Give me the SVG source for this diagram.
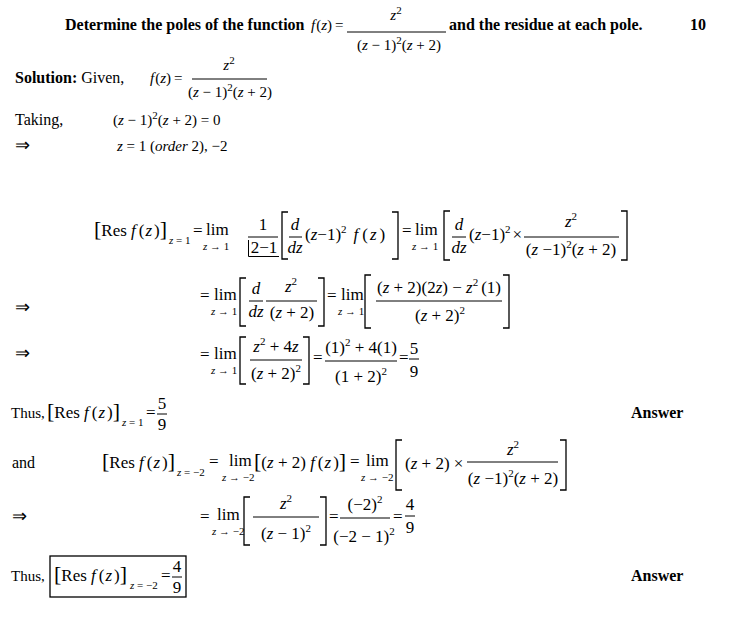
<svg xmlns="http://www.w3.org/2000/svg" width="734" height="630" viewBox="0 0 734 630">
<style>
text{font-family:"Liberation Serif","Times New Roman",serif;font-size:16px;fill:#000}
.b{font-weight:bold}
.i{font-style:italic}
.h{font-size:15px}
.m{font-size:17px}
.s{font-size:11px}
.br{font-size:22px}
.ar{font-size:18px}
.ln{stroke:#000;stroke-width:1;fill:none}
.bk{stroke:#000;stroke-width:1.3;fill:none}
</style>
<rect width="734" height="630" fill="#fff"/>

<g id="question">
<text class="b" x="65" y="30">Determine the poles of the function</text>
<text class="h" x="311" y="30"><tspan class="i">f</tspan><tspan dx="1">(</tspan><tspan class="i">z</tspan>)<tspan dx="3">=</tspan></text>
<text class="h" x="396" y="20" text-anchor="middle"><tspan class="i">z</tspan><tspan class="s" dy="-6">2</tspan></text>
<line class="ln" x1="347" y1="32" x2="446" y2="32"/>
<text class="h" x="399" y="50" text-anchor="middle">(<tspan class="i">z</tspan> − 1)<tspan class="s" dy="-6">2</tspan><tspan dy="6">(</tspan><tspan class="i">z</tspan> + 2)</text>
<text class="b" x="449" y="30">and the residue at each pole.</text>
<text class="b" x="690" y="30">10</text>
</g>

<g id="given">
<text x="15" y="83"><tspan class="b">Solution:</tspan> Given,</text>
<text class="h" x="150" y="83"><tspan class="i">f</tspan><tspan dx="1">(</tspan><tspan class="i">z</tspan>)<tspan dx="3">=</tspan></text>
<text class="h" x="229" y="70" text-anchor="middle"><tspan class="i">z</tspan><tspan class="s" dy="-6">2</tspan></text>
<line class="ln" x1="192" y1="79" x2="267" y2="79"/>
<text class="h" x="230" y="97" text-anchor="middle">(<tspan class="i">z</tspan> − 1)<tspan class="s" dy="-6">2</tspan><tspan dy="6">(</tspan><tspan class="i">z</tspan> + 2)</text>
</g>

<g id="poles">
<text x="15" y="125">Taking,</text>
<text class="h" x="113" y="125">(<tspan class="i">z</tspan> − 1)<tspan class="s" dy="-6">2</tspan><tspan dy="6">(</tspan><tspan class="i">z</tspan> + 2) = 0</text>
<text class="ar" x="15" y="151">⇒</text>
<text class="h" x="117" y="151"><tspan class="i">z</tspan> = 1 (<tspan class="i">order</tspan> 2), −2</text>
</g>

<g id="res1-line1">
<text class="m" x="94" y="236"><tspan class="br">[</tspan>Res <tspan class="i">f</tspan><tspan dx="3">(</tspan><tspan class="i" dx="1">z</tspan><tspan dx="2">)</tspan><tspan class="br">]</tspan></text>
<text class="s" x="169" y="244"><tspan class="i">z</tspan> = 1</text>
<text class="m" x="193" y="236">=</text>
<text class="m" x="206" y="235">lim</text>
<text class="s" x="203" y="250"><tspan class="i">z</tspan> → 1</text>
<text class="m" x="263" y="230" text-anchor="middle">1</text>
<line class="ln" x1="248" y1="237" x2="278" y2="237"/>
<text class="m" x="264" y="253" text-anchor="middle">2−1</text>
<path class="ln" d="M248.5,240 V256.5 H279"/>
<path class="bk" d="M288,212 H282 V259 H288"/>
<text class="m i" x="295" y="230" text-anchor="middle">d</text>
<line class="ln" x1="289" y1="237" x2="302" y2="237"/>
<text class="m i" x="295" y="253" text-anchor="middle">dz</text>
<text class="m" x="305" y="240">(<tspan class="i">z</tspan>−1)<tspan class="s" dy="-7">2</tspan><tspan class="i" dx="7" dy="7">f</tspan><tspan dx="4">(</tspan><tspan class="i" dx="2">z</tspan><tspan dx="3">)</tspan></text>
<path class="bk" d="M392,212 H398 V259 H392"/>
<text class="m" x="402" y="236">=</text>
<text class="m" x="415" y="235">lim</text>
<text class="s" x="412" y="250"><tspan class="i">z</tspan> → 1</text>
<path class="bk" d="M450,211 H444 V260 H450"/>
<text class="m i" x="459" y="230" text-anchor="middle">d</text>
<line class="ln" x1="452" y1="237" x2="466" y2="237"/>
<text class="m i" x="459" y="253" text-anchor="middle">dz</text>
<text class="m" x="469" y="240">(<tspan class="i">z</tspan>−1)<tspan class="s" dy="-7">2</tspan><tspan dx="2" dy="7">×</tspan></text>
<text class="m" x="571" y="227" text-anchor="middle"><tspan class="i">z</tspan><tspan class="s" dy="-7">2</tspan></text>
<line class="ln" x1="524" y1="237" x2="619" y2="237"/>
<text class="m" x="571" y="255" text-anchor="middle">(<tspan class="i">z</tspan> −1)<tspan class="s" dy="-7">2</tspan><tspan dy="7">(</tspan><tspan class="i">z</tspan> + 2)</text>
<path class="bk" d="M621,211 H627 V260 H621"/>
</g>

<g id="res1-line2">
<text class="ar" x="15" y="313">⇒</text>
<text class="m" x="200" y="301">=</text>
<text class="m" x="214" y="300">lim</text>
<text class="s" x="211" y="315"><tspan class="i">z</tspan> → 1</text>
<path class="bk" d="M246,278 H240 V326 H246"/>
<text class="m i" x="256" y="294" text-anchor="middle">d</text>
<line class="ln" x1="249" y1="301" x2="263" y2="301"/>
<text class="m i" x="256" y="317" text-anchor="middle">dz</text>
<text class="m" x="291" y="292" text-anchor="middle"><tspan class="i">z</tspan><tspan class="s" dy="-7">2</tspan></text>
<line class="ln" x1="266" y1="301" x2="317" y2="301"/>
<text class="m" x="292" y="318" text-anchor="middle">(<tspan class="i">z</tspan> + 2)</text>
<path class="bk" d="M318,278 H324 V326 H318"/>
<text class="m" x="327" y="301">=</text>
<text class="m" x="341" y="300">lim</text>
<text class="s" x="338" y="315"><tspan class="i">z</tspan> → 1</text>
<path class="bk" d="M371,275 H365 V328 H371"/>
<text class="m" x="439" y="293" text-anchor="middle">(<tspan class="i">z</tspan> + 2)(2<tspan class="i">z</tspan>) − <tspan class="i">z</tspan><tspan class="s" dy="-7">2</tspan><tspan dx="3" dy="7">(1)</tspan></text>
<line class="ln" x1="376" y1="301" x2="502" y2="301"/>
<text class="m" x="440" y="321" text-anchor="middle">(<tspan class="i">z</tspan> + 2)<tspan class="s" dy="-7">2</tspan></text>
<path class="bk" d="M503,275 H509 V328 H503"/>
</g>

<g id="res1-line3">
<text class="ar" x="15" y="359">⇒</text>
<text class="m" x="200" y="360">=</text>
<text class="m" x="214" y="359">lim</text>
<text class="s" x="211" y="374"><tspan class="i">z</tspan> → 1</text>
<path class="bk" d="M246,337 H240 V384 H246"/>
<text class="m" x="276" y="352" text-anchor="middle"><tspan class="i">z</tspan><tspan class="s" dy="-7">2</tspan><tspan dy="7"> + 4</tspan><tspan class="i">z</tspan></text>
<line class="ln" x1="250" y1="360" x2="302" y2="360"/>
<text class="m" x="276" y="379" text-anchor="middle">(<tspan class="i">z</tspan> + 2)<tspan class="s" dy="-7">2</tspan></text>
<path class="bk" d="M303,337 H309 V384 H303"/>
<text class="m" x="313" y="363">=</text>
<text class="m" x="361" y="353" text-anchor="middle">(1)<tspan class="s" dy="-7">2</tspan><tspan dy="7"> + 4(1)</tspan></text>
<line class="ln" x1="325" y1="361" x2="397" y2="361"/>
<text class="m" x="361" y="382" text-anchor="middle">(1 + 2)<tspan class="s" dy="-7">2</tspan></text>
<text class="m" x="399" y="363">=</text>
<text class="m" x="414" y="354" text-anchor="middle">5</text>
<line class="ln" x1="409" y1="359" x2="419" y2="359"/>
<text class="m" x="414" y="377" text-anchor="middle">9</text>
</g>

<g id="res1-result">
<text class="h" x="11" y="418">Thus,</text>
<text class="m" x="47" y="418"><tspan class="br">[</tspan>Res <tspan class="i">f</tspan><tspan dx="3">(</tspan><tspan class="i" dx="1">z</tspan><tspan dx="2">)</tspan><tspan class="br">]</tspan></text>
<text class="s" x="122" y="426"><tspan class="i">z</tspan> = 1</text>
<text class="m" x="146" y="418">=</text>
<text class="m" x="162" y="409" text-anchor="middle">5</text>
<line class="ln" x1="157" y1="414" x2="167" y2="414"/>
<text class="m" x="162" y="430" text-anchor="middle">9</text>
<text class="b" x="631" y="418">Answer</text>
</g>

<g id="res2-line1">
<text x="12" y="468">and</text>
<text class="m" x="102" y="468"><tspan class="br">[</tspan>Res <tspan class="i">f</tspan><tspan dx="3">(</tspan><tspan class="i" dx="1">z</tspan><tspan dx="2">)</tspan><tspan class="br">]</tspan></text>
<text class="s" x="177" y="476"><tspan class="i">z</tspan> = −2</text>
<text class="m" x="209" y="467">=</text>
<text class="m" x="229" y="466">lim</text>
<text class="s" x="222" y="481"><tspan class="i">z</tspan> → −2</text>
<text class="m" x="254" y="468"><tspan class="br">[</tspan>(<tspan class="i">z</tspan> + 2) <tspan class="i">f</tspan><tspan dx="3">(</tspan><tspan class="i" dx="1">z</tspan><tspan dx="2">)</tspan><tspan class="br">]</tspan></text>
<text class="m" x="350" y="467">=</text>
<text class="m" x="366" y="466">lim</text>
<text class="s" x="361" y="481"><tspan class="i">z</tspan> → −2</text>
<path class="bk" d="M402,440 H396 V490 H402"/>
<text class="m" x="405" y="469">(<tspan class="i">z</tspan> + 2) ×</text>
<text class="m" x="513" y="455" text-anchor="middle"><tspan class="i">z</tspan><tspan class="s" dy="-7">2</tspan></text>
<line class="ln" x1="467" y1="462" x2="558" y2="462"/>
<text class="m" x="513" y="484" text-anchor="middle">(<tspan class="i">z</tspan> −1)<tspan class="s" dy="-7">2</tspan><tspan dy="7">(</tspan><tspan class="i">z</tspan> + 2)</text>
<path class="bk" d="M560,440 H566 V490 H560"/>
</g>

<g id="res2-line2">
<text class="ar" x="12" y="522">⇒</text>
<text class="m" x="200" y="522">=</text>
<text class="m" x="217" y="520">lim</text>
<text class="s" x="212" y="535"><tspan class="i">z</tspan> → −2</text>
<path class="bk" d="M250,497 H244 V545 H250"/>
<text class="m" x="286" y="509" text-anchor="middle"><tspan class="i">z</tspan><tspan class="s" dy="-7">2</tspan></text>
<line class="ln" x1="253" y1="517" x2="319" y2="517"/>
<text class="m" x="286" y="539" text-anchor="middle">(<tspan class="i">z</tspan> − 1)<tspan class="s" dy="-7">2</tspan></text>
<path class="bk" d="M320,497 H326 V545 H320"/>
<text class="m" x="329" y="522">=</text>
<text class="m" x="365" y="510" text-anchor="middle">(−2)<tspan class="s" dy="-7">2</tspan></text>
<line class="ln" x1="340" y1="518" x2="390" y2="518"/>
<text class="m" x="364" y="542" text-anchor="middle">(−2 − 1)<tspan class="s" dy="-7">2</tspan></text>
<text class="m" x="393" y="522">=</text>
<text class="m" x="410" y="510" text-anchor="middle">4</text>
<line class="ln" x1="405" y1="516" x2="415" y2="516"/>
<text class="m" x="410" y="533" text-anchor="middle">9</text>
</g>

<g id="res2-result">
<text class="h" x="11" y="581">Thus,</text>
<rect class="bk" x="50" y="556" width="136" height="41"/>
<text class="m" x="54" y="581"><tspan class="br">[</tspan>Res <tspan class="i">f</tspan><tspan dx="3">(</tspan><tspan class="i" dx="1">z</tspan><tspan dx="2">)</tspan><tspan class="br">]</tspan></text>
<text class="s" x="130" y="589"><tspan class="i">z</tspan> = −2</text>
<text class="m" x="161" y="581">=</text>
<text class="m" x="177" y="572" text-anchor="middle">4</text>
<line class="ln" x1="172" y1="577" x2="182" y2="577"/>
<text class="m" x="177" y="593" text-anchor="middle">9</text>
<text class="b" x="631" y="581">Answer</text>
</g>
</svg>
